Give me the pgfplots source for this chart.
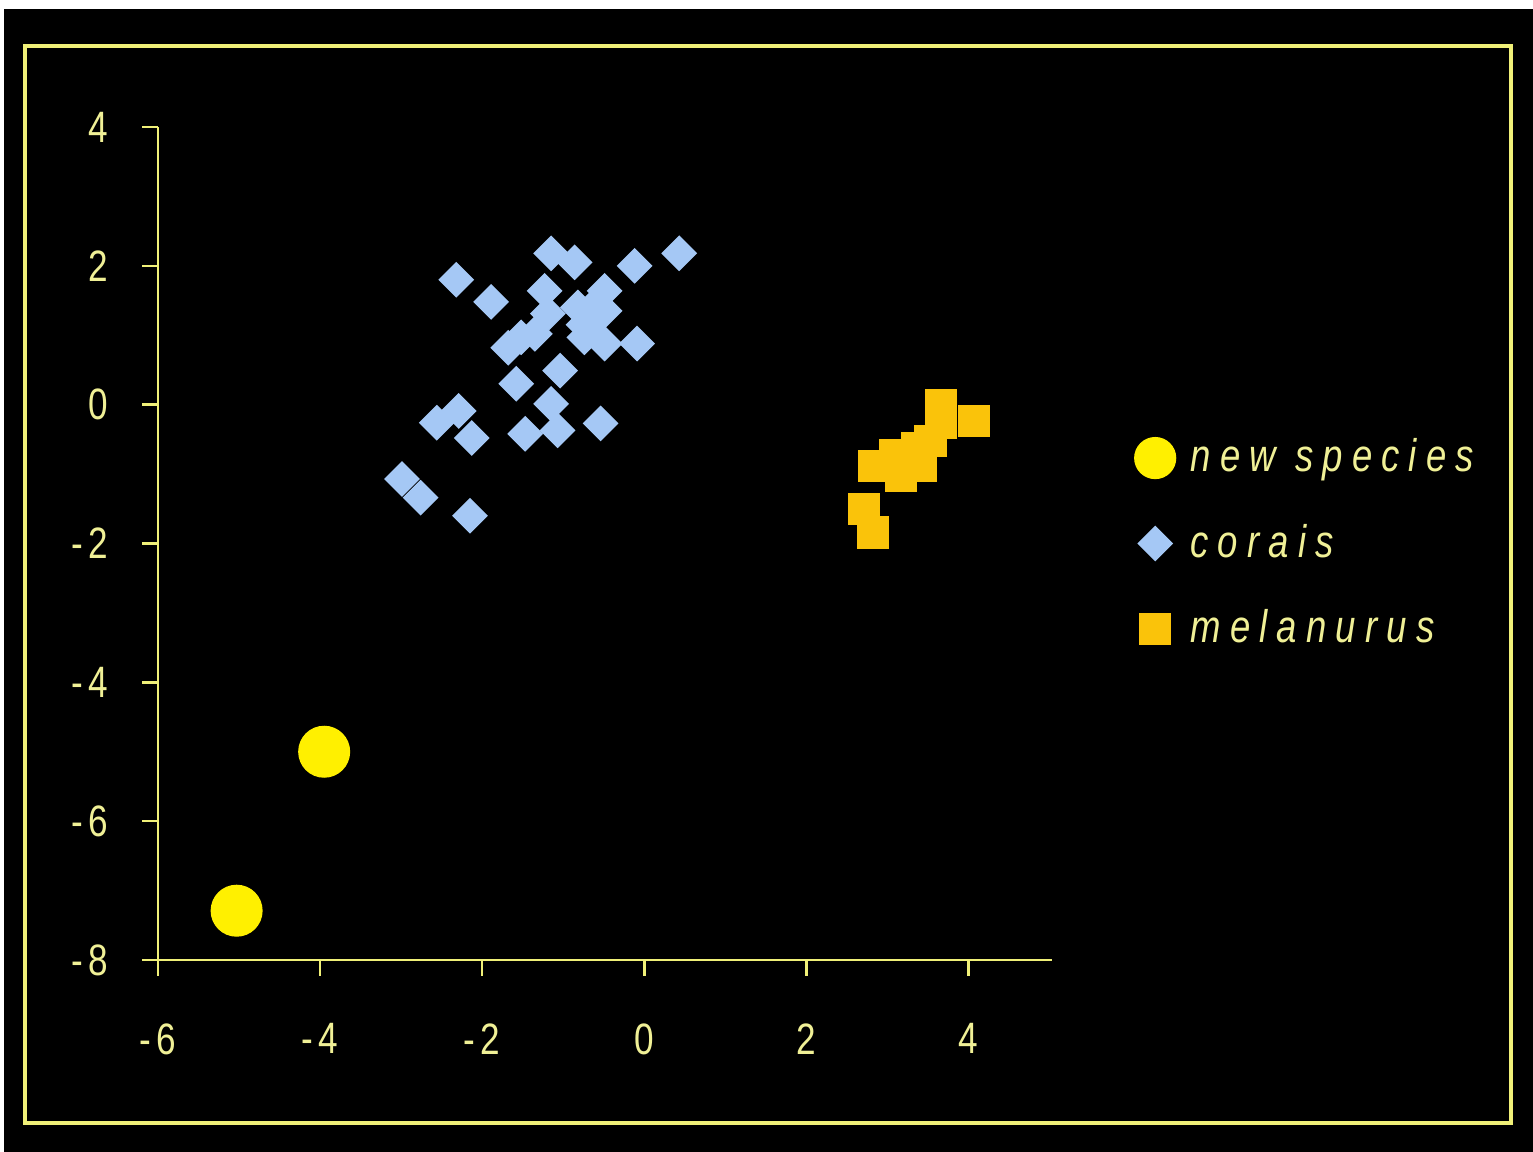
\documentclass[border=0pt]{standalone}
\usepackage{fontspec}
\setmainfont{Liberation Sans}
\usepackage{pgfplots}
\pgfplotsset{compat=1.18}
\newfontfamily\tickfont[FakeStretch=0.8,LetterSpace=12]{Liberation Sans}
\newfontfamily\legfont[FakeStretch=0.8,LetterSpace=20]{Liberation Sans}

\definecolor{frameyel}{RGB}{240,240,120}
\definecolor{txtyel}{RGB}{240,240,150}
\definecolor{newsp}{RGB}{255,240,0}
\definecolor{corais}{RGB}{165,200,245}
\definecolor{melan}{RGB}{250,195,10}

\begin{document}
\begin{tikzpicture}
    % page, black field and yellow frame (1 px = 0.01 cm)
    \path[use as bounding box] (0,0) rectangle (15.33,11.52);
    \fill[white] (0,0) rectangle (15.33,11.52);
    \fill[black] (0.04,0) rectangle (15.33,11.43);
    \draw[frameyel, line width=0.04cm] (0.25,0.29) rectangle (15.11,11.06);
    \begin{axis}
    [
        at={(1.58cm,1.92cm)}, anchor=south west,
        scale only axis,
        width=8.94cm,
        height=8.33cm,
        xmin=-6, xmax=5.03,
        ymin=-8, ymax=4,
        axis lines=left,
        axis line style={-, frameyel, line width=0.7pt},
        tick style={frameyel, line width=0.7pt},
        tick align=outside,
        major tick length=0.16cm,
        xtick={-6,-4,-2,0,2,4},
        ytick={-8,-6,-4,-2,0,2,4},
        xticklabels={-6,-4,-2,0,2,4},
        yticklabels={-8,-6,-4,-2,0,2,4},
        ticklabel style={font=\tickfont\fontsize{12.5}{14}\selectfont, text=txtyel},
        xticklabel style={yshift=-0.35cm},
        yticklabel style={xshift=-0.22cm},
        clip=false,
        legend style=
        {
            draw=none, fill=none, text=txtyel,
            font=\legfont\itshape\fontsize{13}{15}\selectfont,
            at={(axis description cs:1.08,0.5)}, anchor=west,
            row sep=0.33cm,
            /tikz/every odd column/.append style={column sep=0.08cm}
        },
        legend cell align=left,
        legend image code/.code={\draw[#1] plot coordinates {(0cm,0cm)};}
    ]
    \addplot[only marks, mark=*, mark size=7.2pt, color=newsp,
        legend image post style={mark size=5.8pt}]
        coordinates {(-3.95,-5.00) (-5.03,-7.29)};
    \addlegendentry{new species}

    \addplot[only marks, mark=square*, mark size=3.4pt, color=corais, mark options={rotate=45}]
        coordinates {(-2.32,1.80)
            (-1.89,1.48)
            (-1.15,2.18)
            (-0.86,2.05)
            (0.43,2.18)
            (-0.12,2.00)
            (-1.23,1.64)
            (-1.19,1.31)
            (-0.49,1.64)
            (-0.82,1.40)
            (-0.49,1.35)
            (-0.63,1.21)
            (-0.70,1.30)
            (-0.60,1.45)
            (-0.75,1.15)
            (-0.74,0.97)
            (-0.49,0.88)
            (-0.09,0.88)
            (-1.52,0.97)
            (-1.68,0.82)
            (-1.35,1.02)
            (-1.04,0.49)
            (-1.58,0.30)
            (-2.29,-0.09)
            (-2.56,-0.26)
            (-2.13,-0.48)
            (-1.15,0.01)
            (-1.47,-0.42)
            (-1.07,-0.37)
            (-0.54,-0.27)
            (-2.99,-1.07)
            (-2.76,-1.34)
            (-2.15,-1.60)
        };
    \addlegendentry{corais}

    \addplot[only marks, mark=square*, mark size=4.4pt, color=melan]
        coordinates {(3.66,-0.01)
            (3.66,-0.26)
            (4.07,-0.24)
            (2.83,-0.88)
            (3.10,-0.73)
            (3.17,-1.02)
            (3.37,-0.63)
            (3.53,-0.52)
            (3.41,-0.88)
            (2.71,-1.50)
            (2.82,-1.84)
        };
    \addlegendentry{melanurus}
    \end{axis}
\end{tikzpicture}
\end{document}
